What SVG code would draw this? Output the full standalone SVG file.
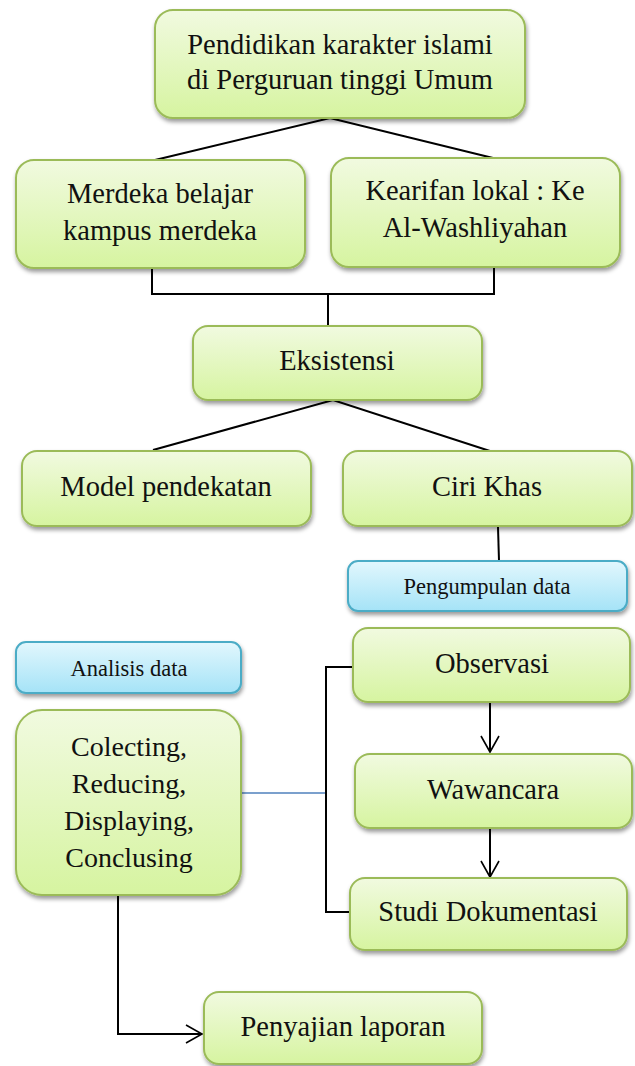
<svg xmlns="http://www.w3.org/2000/svg" width="635" height="1066" viewBox="0 0 635 1066">
<defs>
<linearGradient id="gG" x1="0" y1="0" x2="0" y2="1">
<stop offset="0" stop-color="#f1fae0"/>
<stop offset="1" stop-color="#d6f4a0"/>
</linearGradient>
<linearGradient id="gB" x1="0" y1="0" x2="0" y2="1">
<stop offset="0" stop-color="#e2f7fd"/>
<stop offset="1" stop-color="#a5e3f7"/>
</linearGradient>
<filter id="sh" x="-10%" y="-10%" width="125%" height="135%">
<feDropShadow dx="1" dy="3" stdDeviation="2.2" flood-color="#000" flood-opacity="0.4"/>
</filter>
<marker id="arr" markerWidth="20" markerHeight="20" refX="17" refY="10" orient="auto" markerUnits="userSpaceOnUse">
<path d="M1,1 L17,10 L1,19" fill="none" stroke="#000" stroke-width="1.6"/>
</marker>
<style>
.g{fill:url(#gG);stroke:#9bbb59;stroke-width:2;filter:url(#sh)}
.b{fill:url(#gB);stroke:#4bacc6;stroke-width:2;filter:url(#sh)}
.t{font-size:28.5px;fill:#111;text-anchor:middle}
.m{font-size:28px;fill:#111;text-anchor:middle}
.s{font-size:22.5px;fill:#111;text-anchor:middle}
.c{fill:none;stroke:#000;stroke-width:2}
</style>
</defs>
<g id="connectors">
<polyline class="c" points="155,160 330,118 493,158"/>
<polyline class="c" points="152,268 152,294 494,294 494,267"/>
<line class="c" x1="328" y1="294" x2="328" y2="326"/>
<polyline class="c" points="153,450 333,400 493,452"/>
<line class="c" x1="498" y1="527" x2="499" y2="561"/>
<line x1="241" y1="793" x2="326" y2="793" stroke="#4f81bd" stroke-width="1.6"/>
<polyline class="c" points="353,667 326,667 326,912 350,912"/>
<line class="c" x1="490" y1="702" x2="490" y2="752" marker-end="url(#arr)"/>
<line class="c" x1="490" y1="828" x2="490" y2="877" marker-end="url(#arr)"/>
<polyline class="c" points="118,895 118,1034 202,1034" marker-end="url(#arr)"/>
</g>
<g font-family="'Liberation Serif', 'Times New Roman', serif">
<g id="n-top"><rect class="g" x="155" y="10" width="370" height="108" rx="18"/>
<text class="t" x="340" y="54">Pendidikan karakter islami</text>
<text class="t" x="340" y="89">di Perguruan tinggi Umum</text></g>
<g id="n-merdeka"><rect class="g" x="16" y="160" width="289" height="108" rx="18"/>
<text class="t" x="160" y="203">Merdeka belajar</text>
<text class="t" x="160" y="240">kampus merdeka</text></g>
<g id="n-kearifan"><rect class="g" x="331" y="158" width="289" height="109" rx="18"/>
<text class="t" x="475" y="200">Kearifan lokal : Ke</text>
<text class="t" x="475" y="237">Al-Washliyahan</text></g>
<g id="n-eksistensi"><rect class="g" x="193" y="326" width="289" height="74" rx="15"/>
<text class="t" x="337" y="370">Eksistensi</text></g>
<g id="n-model"><rect class="g" x="22" y="451" width="289" height="75" rx="15"/>
<text class="t" x="166" y="496">Model pendekatan</text></g>
<g id="n-ciri"><rect class="g" x="343" y="451" width="289" height="75" rx="15"/>
<text class="t" x="487" y="496">Ciri Khas</text></g>
<g id="n-pengumpulan"><rect class="b" x="348" y="561" width="279" height="50" rx="10"/>
<text class="s" x="487" y="594">Pengumpulan data</text></g>
<g id="n-analisis"><rect class="b" x="16" y="642" width="225" height="51" rx="10"/>
<text class="s" x="129" y="676">Analisis data</text></g>
<g id="n-colecting"><rect class="g" x="16" y="710" width="225" height="185" rx="26"/>
<text class="m" x="129" y="756">Colecting,</text>
<text class="m" x="129" y="793">Reducing,</text>
<text class="m" x="129" y="830">Displaying,</text>
<text class="m" x="129" y="867">Conclusing</text></g>
<g id="n-observasi"><rect class="g" x="353" y="628" width="277" height="74" rx="15"/>
<text class="t" x="492" y="673">Observasi</text></g>
<g id="n-wawancara"><rect class="g" x="355" y="754" width="277" height="74" rx="15"/>
<text class="t" x="493" y="799">Wawancara</text></g>
<g id="n-studi"><rect class="g" x="350" y="878" width="277" height="72" rx="15"/>
<text class="t" x="488" y="921">Studi Dokumentasi</text></g>
<g id="n-penyajian"><rect class="g" x="204" y="992" width="278" height="72" rx="15"/>
<text class="t" x="343" y="1036">Penyajian laporan</text></g>
</g>
</svg>
